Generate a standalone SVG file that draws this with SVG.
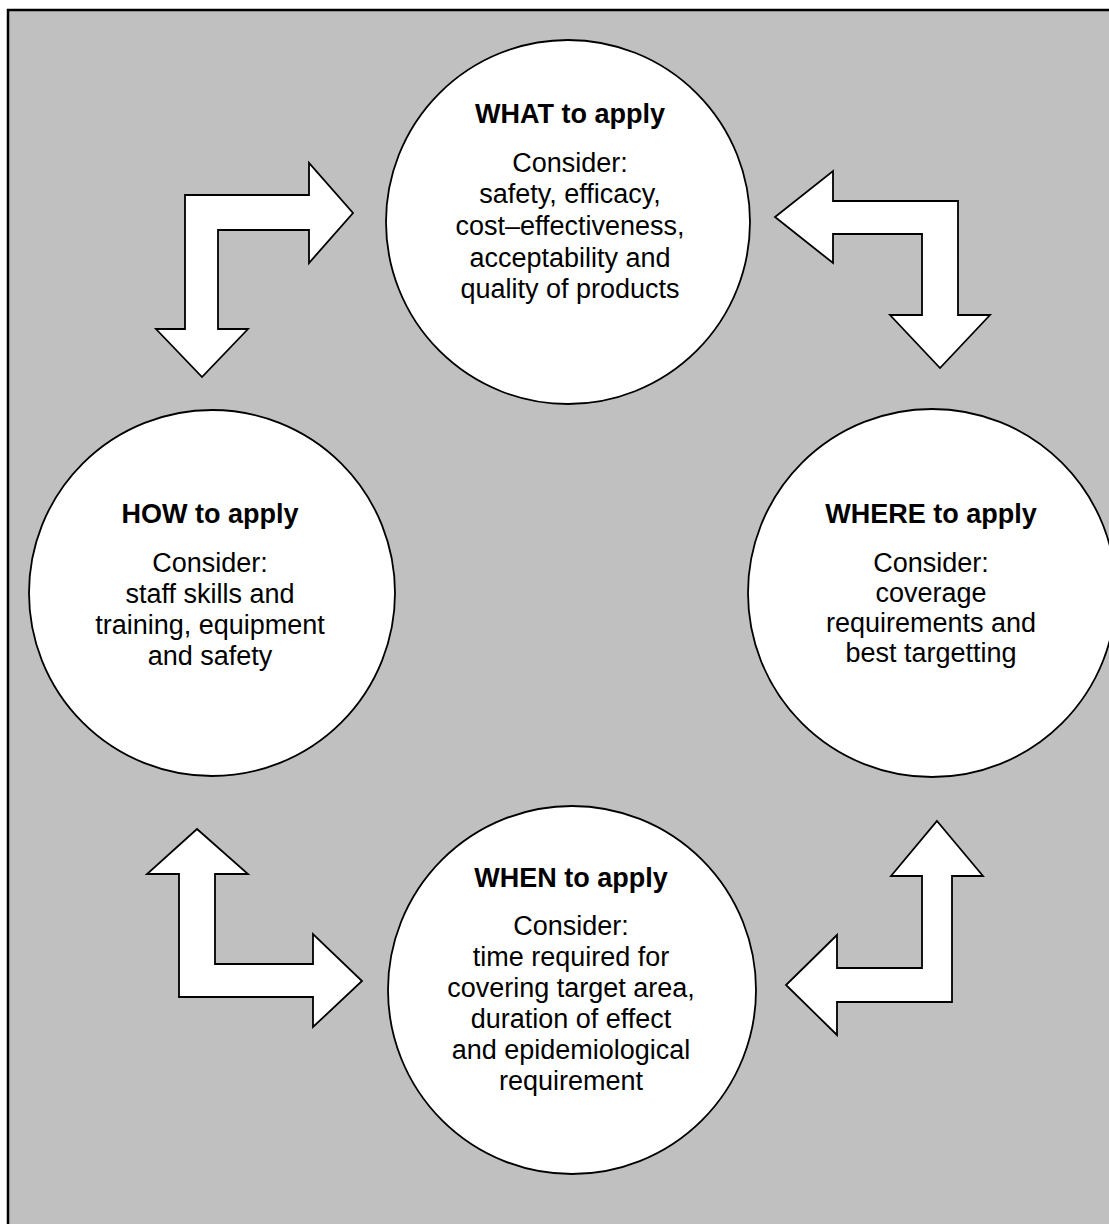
<svg xmlns="http://www.w3.org/2000/svg" width="1109" height="1224" viewBox="0 0 1109 1224">
<style>
.bg{fill:#c0c0c0;stroke:#000;stroke-width:2.5}
.node{fill:#fff;stroke:#000;stroke-width:1.8}
.arrow{fill:#fff;stroke:#000;stroke-width:1.8;stroke-linejoin:miter}
text{font-family:"Liberation Sans",Arial,sans-serif;font-size:27px;fill:#000;text-anchor:middle}
.t{font-weight:bold}
</style>
<rect width="1109" height="1224" fill="#fff"/>
<rect class="bg" x="8" y="10" width="1115" height="1225"/>
<g id="connectors">
<polygon class="arrow" points="185,195 309,195 309,163 353,213 309,263 309,230 218,230 218,329 248,329 202,377 156,329 185,329"/>
<polygon class="arrow" points="958,201 958,315 990,315 940,368 890,315 922,315 922,234 833,234 833,263 775,217 833,171 833,201"/>
<polygon class="arrow" points="197,829 248,874 215,874 215,964 313,964 313,934 362,981 313,1027 313,997 179,997 179,874 147,874"/>
<polygon class="arrow" points="937,821 983,876 952,876 952,1002 837,1002 837,1035 786,985 837,935 837,968 922,968 922,876 891,876"/>
</g>
<g id="what">
<circle class="node" cx="568" cy="222" r="182"/>
<text class="t" x="570" y="123">WHAT to apply</text>
<text x="570" y="172">Consider:</text>
<text x="570" y="203">safety, efficacy,</text>
<text x="570" y="235">cost–effectiveness,</text>
<text x="570" y="267">acceptability and</text>
<text x="570" y="298">quality of products</text>
</g>
<g id="how">
<circle class="node" cx="212" cy="593" r="183"/>
<text class="t" x="210" y="523">HOW to apply</text>
<text x="210" y="572">Consider:</text>
<text x="210" y="603">staff skills and</text>
<text x="210" y="634">training, equipment</text>
<text x="210" y="665">and safety</text>
</g>
<g id="where">
<circle class="node" cx="932" cy="593" r="184"/>
<text class="t" x="931" y="523">WHERE to apply</text>
<text x="931" y="572">Consider:</text>
<text x="931" y="602">coverage</text>
<text x="931" y="632">requirements and</text>
<text x="931" y="662">best targetting</text>
</g>
<g id="when">
<circle class="node" cx="572" cy="990" r="184"/>
<text class="t" x="571" y="887">WHEN to apply</text>
<text x="571" y="935">Consider:</text>
<text x="571" y="966">time required for</text>
<text x="571" y="997">covering target area,</text>
<text x="571" y="1028">duration of effect</text>
<text x="571" y="1059">and epidemiological</text>
<text x="571" y="1090">requirement</text>
</g>
</svg>
